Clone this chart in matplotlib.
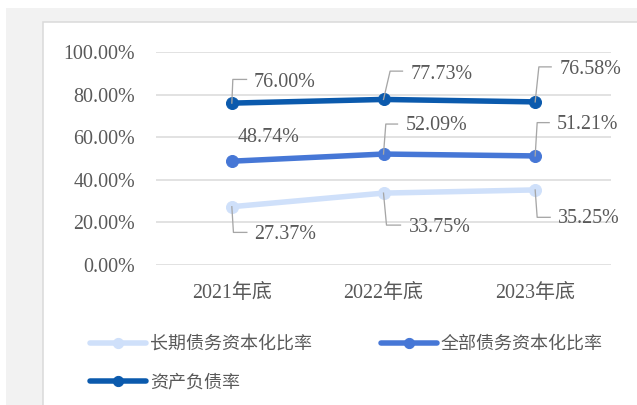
import matplotlib
matplotlib.use("Agg")
import matplotlib.pyplot as plt
from matplotlib.lines import Line2D
from matplotlib.patches import Rectangle
from matplotlib.ticker import FuncFormatter

plt.rcParams['font.family'] = ['Liberation Serif', 'Noto Sans CJK SC']

years = ["2021年底", "2022年底", "2023年底"]
long_term = [27.37, 33.75, 35.25]     # 长期债务资本化比率
total_debt = [48.74, 52.09, 51.21]    # 全部债务资本化比率
asset_liab = [76.00, 77.73, 76.58]    # 资产负债率

names = ["长期债务资本化比率", "全部债务资本化比率", "资产负债率"]
colors = ["#cfe0fa", "#4677d6", "#0b5aad"]
text_c = "#595959"
lead_c = "#a6a6a6"

# label layout in pixels relative to each point: (corner dx, dy, end dx, text dx, text dy)
lay_long = [(1.6, -25.7, 15, 22, -27.3), (3, -32, 17, 25, -34), (2, -27.4, 15, 23, -28.7)]
lay_total = [(None, None, None, 6, 24), (2.3, 30, 14, 22, 28.3), (2, 33.3, 14, 22, 31)]
lay_asset = [(1, 23.7, 14.7, 22, 21), (6.6, 28.3, 19, 27, 25), (3.7, 35, 16, 24, 32.7)]

W, H = 637, 405
fig = plt.figure(figsize=(W / 72, H / 72), dpi=72)
fig.patch.set_facecolor("white")

# background panels (figure pixel coords, origin bottom-left)
fig.add_artist(Rectangle((6, 0), W, H - 8, transform=None, facecolor="#f2f2f2",
                         edgecolor="none", zorder=-3))
fig.add_artist(Rectangle((43, -5), W, H - 22 + 5, transform=None, facecolor="white",
                         edgecolor="#d9d9d9", lw=1.5, zorder=-2))

ax = fig.add_axes([156 / W, (H - 265) / H, 455 / W, 213 / H])
ax.set_facecolor("none")
x = list(range(len(years)))

handles = []
for vals, c, n in zip([long_term, total_debt, asset_liab], colors, names):
    h, = ax.plot(x, [v / 100 for v in vals], color=c, lw=5.5, marker="o", ms=12,
                 solid_capstyle="round", label=n, zorder=3)
    handles.append(h)

ax.set_xlim(-0.5, 2.5)
ax.set_ylim(0, 1)
ax.set_yticks([0, 0.2, 0.4, 0.6, 0.8, 1.0])
ax.yaxis.set_major_formatter(FuncFormatter(lambda v, p: f"{v * 100:.2f}%"))
ax.set_xticks(x)
ax.set_xticklabels(years)
ax.grid(axis="y", color="#d9d9d9", lw=1.5)
ax.set_axisbelow(True)
for s in ax.spines.values():
    s.set_visible(False)
ax.tick_params(axis="both", length=0, labelsize=20, colors=text_c)
ax.tick_params(axis="y", pad=21)
ax.tick_params(axis="x", pad=19)


def label(i, v, lay):
    px, py = ax.transData.transform((i, v / 100))
    cx, cy, ex, tx, ty = lay
    if cx is not None:
        fig.add_artist(Line2D([px, px + cx, px + ex], [py, py + cy, py + cy],
                              transform=None, color=lead_c, lw=1.3, zorder=2))
    fig.text(px + tx, py + ty, f"{v:.2f}%", transform=None, fontsize=20,
             color=text_c, ha="left", va="center")


for i in x:
    label(i, long_term[i], lay_long[i])
    label(i, total_debt[i], lay_total[i])
    label(i, asset_liab[i], lay_asset[i])

leg = fig.legend([handles[0], handles[2], handles[1]],
                 [names[0], names[2], names[1]],
                 ncol=2, loc="upper left", bbox_to_anchor=(90 / W, (H - 336) / H),
                 frameon=False, fontsize=18, markerscale=0.85,
                 handlelength=3.1, handletextpad=0.25, columnspacing=3.8,
                 labelspacing=1.2, borderpad=0, borderaxespad=0)
for t in leg.get_texts():
    t.set_color(text_c)

fig.savefig("out.png", dpi=72, facecolor=fig.get_facecolor())
